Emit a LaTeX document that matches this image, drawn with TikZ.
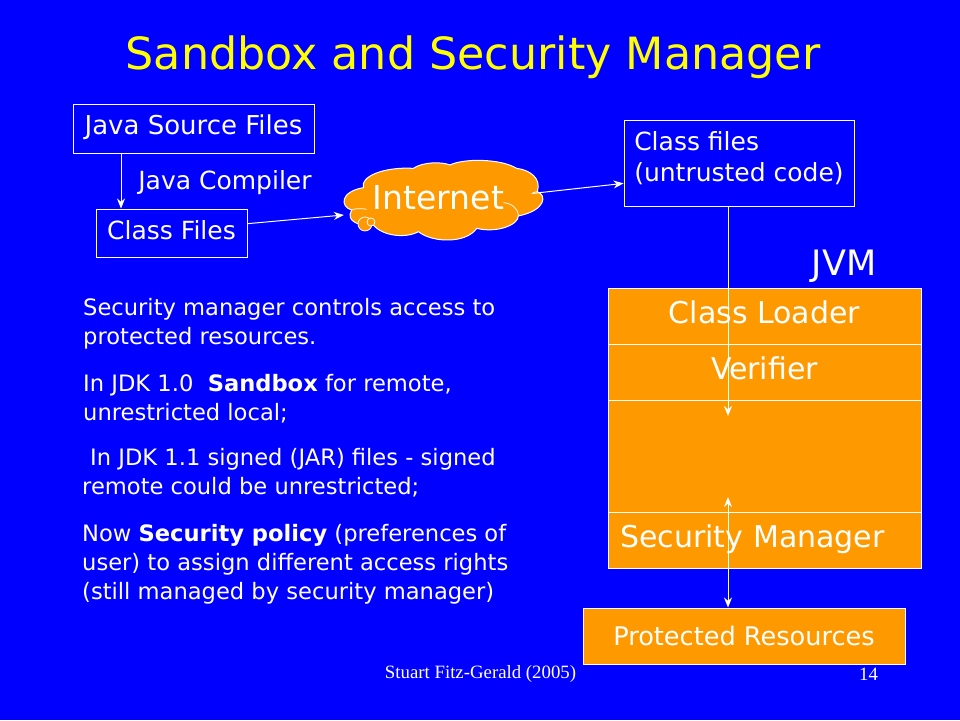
\documentclass[tikz,border=0pt]{standalone}
\usepackage{fontspec}
\setmainfont{DejaVu Sans}
\newfontfamily\footfont{Liberation Serif}
\usetikzlibrary{arrows.meta}
\definecolor{slideblue}{HTML}{0000FF}
\definecolor{sandorange}{HTML}{FF9900}
\definecolor{titleyellow}{HTML}{FFFF00}
\tikzset{
    every node/.style={inner sep=0pt},
    flowbox/.style={rectangle, draw=white, line width=1pt, text=white, text height=18pt, text depth=6pt, font=\fontsize{25}{31}\selectfont},
    stackbox/.style={rectangle, draw=white, line width=1pt, fill=sandorange, text=white, minimum width=313pt, minimum height=56pt, text height=20pt, text depth=6pt, font=\fontsize{30}{36}\selectfont},
    bodytext/.style={anchor=base west, align=left, text=white, font=\fontsize{22.6}{29}\selectfont},
    foottext/.style={text=white, font=\footfont\fontsize{18.8}{22}\selectfont},
    arrowline/.style={line width=1pt, color=white, -{Stealth[length=10pt, width=8pt]}}
}
\begin{document}
\begin{tikzpicture}
                \fill [slideblue] (0pt, 0pt) rectangle (960pt, -720pt);
                \useasboundingbox (0pt, 0pt) rectangle (960pt, -720pt);
                \node (title) [text=titleyellow, font=\fontsize{44.4}{52}\selectfont] at (473pt, -57pt) {Sandbox and Security Manager};
                \node (source) [flowbox, minimum width=241pt, minimum height=49pt, font=\fontsize{26}{31}\selectfont] at (193.5pt, -128.5pt) {Java Source Files};
                \node (compiler) [text=white, font=\fontsize{25}{31}\selectfont] at (225pt, -183pt) {Java Compiler};
                \node (classfiles) [flowbox, minimum width=151pt, minimum height=48pt] at (171.5pt, -233pt) {Class Files};
                % cloud outline
                \begin{scope}[shift={(330pt, -150pt)}, x=0.3333pt, y=-0.3333pt]
                    \draw [white, line width=1pt, fill=sandorange] (100,113) .. controls (90,80) and (160,50) .. (250,55)
                        .. controls (280,35) and (335,35) .. (360,45)
                        .. controls (400,25) and (510,25) .. (560,55)
                        .. controls (600,60) and (635,85) .. (622,125)
                        .. controls (650,135) and (650,180) .. (565,198)
                        .. controls (565,225) and (500,250) .. (440,235)
                        .. controls (410,280) and (310,280) .. (265,245)
                        .. controls (230,265) and (160,260) .. (130,225)
                        .. controls (90,230) and (45,215) .. (65,180)
                        .. controls (30,170) and (30,125) .. (100,113) -- cycle;
                    \draw [white, line width=0.75pt] (65,180) .. controls (75,175) and (95,175) .. (110,178);
                    \draw [white, line width=0.75pt] (520,158) .. controls (545,160) and (565,175) .. (565,198);
                    \draw [white, line width=0.75pt] (622,125) .. controls (615,125) and (610,128) .. (605,131);
                \end{scope}
                \node (internet) [minimum width=189pt, minimum height=81pt, text=white, text height=20pt, text depth=2pt, font=\fontsize{33}{40}\selectfont] at (438.5pt, -200pt) {Internet};
                \node (bubblea) [circle, draw=white, line width=0.75pt, fill=sandorange, minimum size=14pt] at (365pt, -224pt) {};
                \node (bubbleb) [circle, draw=white, line width=0.75pt, fill=sandorange, minimum size=8pt] at (371pt, -222pt) {};
                \node (untrusted) [rectangle, draw=white, line width=1pt, minimum width=230pt, minimum height=86pt] at (739pt, -163pt) {};
                \node (untrustedtext) [align=left, text=white, font=\fontsize{25}{31}\selectfont] at (739pt, -158pt) {Class files\\(untrusted code)};
                \node (jvm) [text=white, font=\fontsize{35}{42}\selectfont] at (844pt, -266pt) {JVM};
                \node (loader) [stackbox] at (764.5pt, -316pt) {Class Loader};
                \node (verifier) [stackbox] at (764.5pt, -372pt) {Verifier};
                \node (gap) [stackbox, minimum height=112pt] at (764.5pt, -456pt) {};
                \node (manager) [stackbox, align=left, text width=289pt] at (764.5pt, -540pt) {Security Manager};
                \node (resources) [stackbox, minimum width=322pt, font=\fontsize{25.6}{31}\selectfont, text height=22pt, text depth=4pt] at (744pt, -636pt) {Protected Resources};
                \node (parone) [bodytext] at (83pt, -344pt) {Security manager controls access to\\protected resources.};
                \node (partwo) [bodytext] at (83pt, -420pt) {In JDK 1.0 \ \textbf{Sandbox} for remote,\\unrestricted local;};
                \node (parthree) [bodytext] at (82pt, -494pt) {\hspace*{8pt}In JDK 1.1 signed (JAR) files - signed\\remote could be unrestricted;};
                \node (parfour) [bodytext] at (82pt, -599pt) {Now \textbf{Security policy} (preferences of\\user) to assign different access rights\\(still managed by security manager)};
                \node (author) [foottext] at (480.5pt, -674pt) {Stuart Fitz-Gerald (2005)};
                \node (pagenum) [foottext] at (868.5pt, -674pt) {14};
                \coordinate (compilerline) at (121pt, -180pt);
                \coordinate (verifierend) at (728pt, -416pt);
                \coordinate (managerend) at (728pt, -497pt);
                \draw [arrowline] (source.south -| compilerline) to (classfiles.north -| compilerline);
                \draw [arrowline] (classfiles.7) to (internet.189);
                \draw [arrowline] (internet.4) to (untrusted.190);
                \draw [arrowline] (untrusted.south -| verifierend) to (verifierend);
                \draw [line width=1pt, color=white, {Stealth[length=10pt, width=8pt]}-{Stealth[length=10pt, width=8pt]}] (managerend) to (resources.north -| managerend);
            \end{tikzpicture}
\end{document}
